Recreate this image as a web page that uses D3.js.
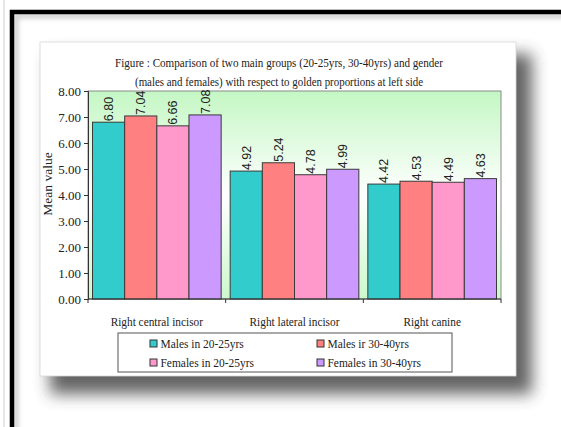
<!DOCTYPE html>
<html>
<head>
<meta charset="utf-8">
<script src="https://cdn.jsdelivr.net/npm/d3@7/dist/d3.min.js"></script>
<style>
  html, body { margin: 0; padding: 0; background: #fff; }
  svg { display: block; }
</style>
</head>
<body>
<svg id="chart" width="561" height="427"></svg>
<script>
// Mean golden-proportion values per tooth, by age group and gender
const categories = ["Right central incisor", "Right lateral incisor", "Right canine"];
const seriesNames = ["Males in 20-25yrs", "Males ir 30-40yrs", "Females in 20-25yrs", "Females in 30-40yrs"];
const males2025   = [6.80, 4.92, 4.42];
const males3040   = [7.04, 5.24, 4.53];
const females2025 = [6.66, 4.78, 4.49];
const females3040 = [7.08, 4.99, 4.63];
const seriesColors = ["#33cccc", "#ff8080", "#ff99cc", "#cc99ff"];
const yTicks = [0, 1, 2, 3, 4, 5, 6, 7, 8];
const titleLines = [
  "Figure : Comparison of two main groups (20-25yrs, 30-40yrs) and gender",
  "(males and females) with respect to golden proportions at left side"
];
const yLabel = "Mean value";

const seriesValues = [males2025, males3040, females2025, females3040];

const svg = d3.select("#chart");
const defs = svg.append("defs");
const serif = "'Liberation Serif', 'Times New Roman', serif";

// narrow a serif label horizontally, the way the chart's condensed Times reads
function condense(sel, k) {
  sel.each(function () {
    const w = this.getComputedTextLength();
    d3.select(this).attr("textLength", w * k).attr("lengthAdjust", "spacingAndGlyphs");
  });
}

// blur filters for shadows
defs.append("filter").attr("id", "soft").attr("x", "-20%").attr("y", "-20%")
  .attr("width", "140%").attr("height", "140%")
  .append("feGaussianBlur").attr("stdDeviation", 8);
defs.append("filter").attr("id", "soft2").attr("x", "-20%").attr("y", "-20%")
  .attr("width", "140%").attr("height", "140%")
  .append("feGaussianBlur").attr("stdDeviation", 2.5);

// plot background: green fading to white in the middle and back to green
const grad = defs.append("linearGradient").attr("id", "plotBg")
  .attr("x1", 0).attr("y1", 0).attr("x2", 0).attr("y2", 1);
grad.append("stop").attr("offset", "0%").attr("stop-color", "#c4f7c4");
grad.append("stop").attr("offset", "50%").attr("stop-color", "#ffffff");
grad.append("stop").attr("offset", "100%").attr("stop-color", "#ccf8cc");

// outer page frame
svg.append("line").attr("x1", 4).attr("x2", 4).attr("y1", 0).attr("y2", 427)
  .attr("stroke", "#e6e6e6").attr("stroke-width", 2);
svg.append("rect").attr("x", 16).attr("y", 16).attr("width", 620).attr("height", 500)
  .attr("fill", "none").attr("stroke", "#c4c4c4").attr("stroke-width", 4)
  .attr("filter", "url(#soft2)");
svg.append("rect").attr("x", 12).attr("y", 12).attr("width", 620).attr("height", 500)
  .attr("fill", "none").attr("stroke", "#000").attr("stroke-width", 4.5);

// card with drop shadow
const card = { x: 40, y: 42, w: 476, h: 334 };
svg.append("rect").attr("x", card.x + 10).attr("y", card.y + 12)
  .attr("width", card.w + 6).attr("height", card.h + 6)
  .attr("fill", "#3c3c3c").attr("opacity", 0.8).attr("filter", "url(#soft)");
svg.append("rect").attr("x", card.x).attr("y", card.y)
  .attr("width", card.w).attr("height", card.h)
  .attr("fill", "#fff").attr("stroke", "#d8d8d8").attr("stroke-width", 0.8);

// title
svg.append("g").selectAll("text").data(titleLines).join("text")
  .attr("x", 279).attr("y", (d, i) => 67 + i * 19)
  .attr("text-anchor", "middle")
  .attr("font-family", serif).attr("font-size", 12.5)
  .attr("fill", "#222")
  .attr("textLength", (d, i) => i === 0 ? 328 : 288)
  .attr("lengthAdjust", "spacingAndGlyphs")
  .text(d => d);

// scales
const plot = { left: 88, right: 501, top: 91, bottom: 299 };
const x0 = d3.scaleBand().domain(categories).range([plot.left, plot.right]).padding(0);
const x1 = d3.scaleBand().domain(seriesNames).range([0, x0.bandwidth()])
  .paddingInner(0).paddingOuter(0.14);
const y = d3.scaleLinear().domain([0, 8]).range([plot.bottom, plot.top]);

// plot area
svg.append("rect").attr("x", plot.left).attr("y", plot.top)
  .attr("width", plot.right - plot.left).attr("height", plot.bottom - plot.top)
  .attr("fill", "url(#plotBg)").attr("stroke", "#8a8a8a").attr("stroke-width", 1);

// bars
const barData = [];
categories.forEach((c, ci) => {
  seriesNames.forEach((s, si) => {
    barData.push({ cat: c, series: s, si, value: seriesValues[si][ci] });
  });
});

svg.append("g").selectAll("rect").data(barData).join("rect")
  .attr("x", d => x0(d.cat) + x1(d.series))
  .attr("y", d => y(d.value))
  .attr("width", x1.bandwidth())
  .attr("height", d => y(0) - y(d.value))
  .attr("fill", d => seriesColors[d.si])
  .attr("stroke", "#3a3a3a").attr("stroke-width", 1);

// value labels, rotated
svg.append("g").selectAll("text").data(barData).join("text")
  .attr("transform", d => {
    const cx = x0(d.cat) + x1(d.series) + x1.bandwidth() / 2;
    return `translate(${cx},${y(d.value) - 1}) rotate(-90)`;
  })
  .attr("dy", "0.36em")
  .attr("text-anchor", "start")
  .attr("font-family", "'Liberation Sans', Arial, sans-serif")
  .attr("font-size", 12.5)
  .attr("fill", "#222")
  .text(d => d.value.toFixed(2));

// y axis
const yAxis = d3.axisLeft(y).tickValues(yTicks).tickFormat(d3.format(".2f"))
  .tickSize(4).tickPadding(3);
const gy = svg.append("g").attr("transform", `translate(${plot.left},0)`).call(yAxis);
gy.select(".domain").attr("stroke", "#333");
gy.selectAll(".tick line").attr("stroke", "#333");
gy.selectAll("text").attr("font-family", serif).attr("font-size", 13).attr("fill", "#222");

// x axis: ticks at category boundaries
const boundaries = categories.map(c => x0(c)).concat([plot.right]);
svg.append("line").attr("x1", plot.left).attr("x2", plot.right)
  .attr("y1", plot.bottom).attr("y2", plot.bottom).attr("stroke", "#333");
svg.append("g").selectAll("line").data(boundaries).join("line")
  .attr("x1", d => d).attr("x2", d => d)
  .attr("y1", plot.bottom).attr("y2", plot.bottom + 4)
  .attr("stroke", "#333");
svg.append("g").selectAll("text").data(categories).join("text")
  .attr("x", d => x0(d) + x0.bandwidth() / 2)
  .attr("y", 326)
  .attr("text-anchor", "middle")
  .attr("font-family", serif).attr("font-size", 13)
  .attr("fill", "#222")
  .text(d => d)
  .call(condense, 0.87);

// y axis title
svg.append("text")
  .attr("transform", "translate(52,184) rotate(-90)")
  .attr("text-anchor", "middle")
  .attr("font-family", serif).attr("font-size", 13.5)
  .attr("fill", "#222")
  .text(yLabel);

// legend
const legend = svg.append("g");
legend.append("rect").attr("x", 118).attr("y", 333).attr("width", 334).attr("height", 39)
  .attr("fill", "#fff").attr("stroke", "#555").attr("stroke-width", 1);
const legendCols = [150, 317];
const legendRows = [343.5, 362.5];
const items = legend.selectAll("g").data(seriesNames).join("g")
  .attr("transform", (d, i) => `translate(${legendCols[i % 2]},${legendRows[Math.floor(i / 2)]})`);
items.append("rect").attr("x", 0).attr("y", -3.5).attr("width", 7).attr("height", 7)
  .attr("fill", (d, i) => seriesColors[i]).attr("stroke", "#333").attr("stroke-width", 1);
items.append("text").attr("x", 10.5).attr("y", 0).attr("dy", "0.35em")
  .attr("font-family", serif).attr("font-size", 13).attr("fill", "#222")
  .text(d => d)
  .call(condense, 0.88);
</script>
</body>
</html>
